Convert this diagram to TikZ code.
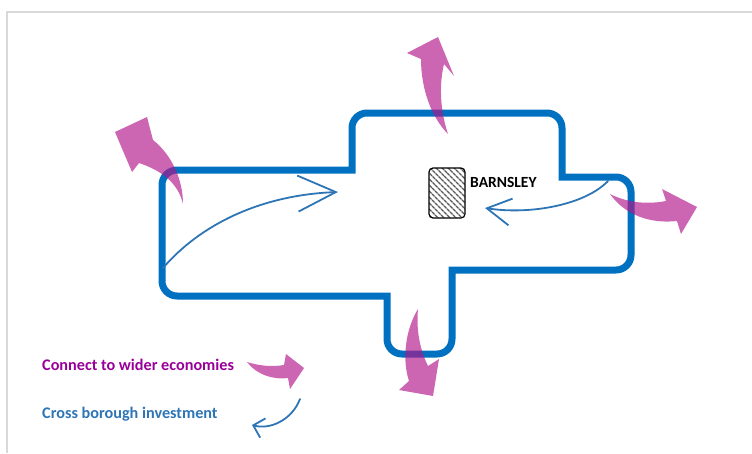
\documentclass[tikz,border=0pt]{standalone}
\usepackage{fontspec}
\setmainfont{Carlito}
\usepackage{tikz}
\usetikzlibrary{arrows.meta,patterns.meta}

\definecolor{frameline}{RGB}{217,217,217}
\definecolor{areablue}{RGB}{0,112,192}
\definecolor{linkblue}{RGB}{46,117,182}
\definecolor{widerpink}{RGB}{177,20,137}
\definecolor{widertext}{RGB}{153,0,153}

\tikzset{
    outline/.style={draw=areablue, line width=7pt},
    wider/.style={fill=widerpink, fill opacity=0.65},
    crossarrow/.style={draw=linkblue, line width=1.8pt, line cap=round},
    keytext/.style={font=\bfseries\fontsize{16.2}{19}\selectfont, anchor=base west, inner sep=0pt},
}

\begin{document}
\begin{tikzpicture}[x=1pt, y=-1pt]
    \useasboundingbox (0,0) rectangle (752,453);
    %% Page frame
    \draw [frameline, line width=2pt] (7,453) -- (7,12) -- (752,12);

    %% Borough outline
    \draw [outline] (162,233) [rounded corners=15pt] -- (162,170)
        [sharp corners] -- (352,170)
        [rounded corners=15pt] -- (352,113) -- (562,113)
        [sharp corners] -- (562,177)
        [rounded corners=15pt] -- (631,177) -- (631,270)
        [sharp corners] -- (452,270)
        [rounded corners=15pt] -- (452,354) -- (387,354)
        [sharp corners] -- (387,296)
        [rounded corners=15pt] -- (162,296) -- cycle;

    %% Town
    \node [draw=black, line width=1.2pt, rounded corners=4pt, minimum width=36pt, minimum height=50pt,
        pattern={Lines[angle=-45, distance=4pt, line width=1.4pt]}, pattern color=black!65] (town) at (447,193) {};
    \node [keytext, font=\bfseries\fontsize{15.5}{18}\selectfont] (townname) at (470,187) {BARNSLEY};

    %% Cross borough investment
    \coordinate (westfoot) at (163,268);
    \coordinate (westhead) at (338,192);
    \draw [crossarrow, -{Straight Barb[length=38pt, width=36pt]}] (westfoot) .. controls (200,225) and (260,195) .. (westhead);
    \coordinate (eastfoot) at (608,181);
    \coordinate (easthead) at (485,208);
    \draw [crossarrow, -{Straight Barb[length=24pt, width=27pt]}] (eastfoot) .. controls (585,205) and (530,215) .. (easthead);

    %% Connect to wider economies
    % North
    \fill [wider] (448,134) .. controls (440,110) and (439,85) .. (444,64) -- (454,76) -- (438,37) -- (407,53) -- (421,59)
        .. controls (421,90) and (432,118) .. (448,134) -- cycle;
    % North west
    \fill [wider] (183,204) .. controls (183,180) and (172,155) .. (153,140) -- (147,117) -- (115,132) -- (132,172) -- (139,163)
        .. controls (160,170) and (178,182) .. (183,204) -- cycle;
    % East
    \fill [wider] (610,194) .. controls (630,204) and (650,204) .. (666,201) -- (662,189) -- (697,207) -- (681,234) -- (677,221)
        .. controls (650,224) and (625,215) .. (610,194) -- cycle;
    % South
    \fill [wider] (418,309) .. controls (405,330) and (402,360) .. (409,381) -- (399,390) -- (433,396) -- (439,359) -- (428,366)
        .. controls (420,350) and (416,330) .. (418,309) -- cycle;

    %% Key
    \node [keytext, text=widertext] (widerkey) at (42,370) {Connect to wider economies};
    \node [keytext, text=linkblue] (crosskey) at (42,418) {Cross borough investment};
    \fill [wider] (247,362) .. controls (260,366) and (272,367) .. (284,365) -- (286,354) -- (304,368) -- (290,389) -- (288,378)
        .. controls (272,380) and (256,374) .. (247,362) -- cycle;
    \coordinate (keyfoot) at (300,399);
    \coordinate (keyhead) at (252,425);
    \draw [crossarrow, -{Straight Barb[length=10pt, width=20pt]}] (keyfoot) .. controls (292,420) and (270,430) .. (keyhead);
\end{tikzpicture}
\end{document}
